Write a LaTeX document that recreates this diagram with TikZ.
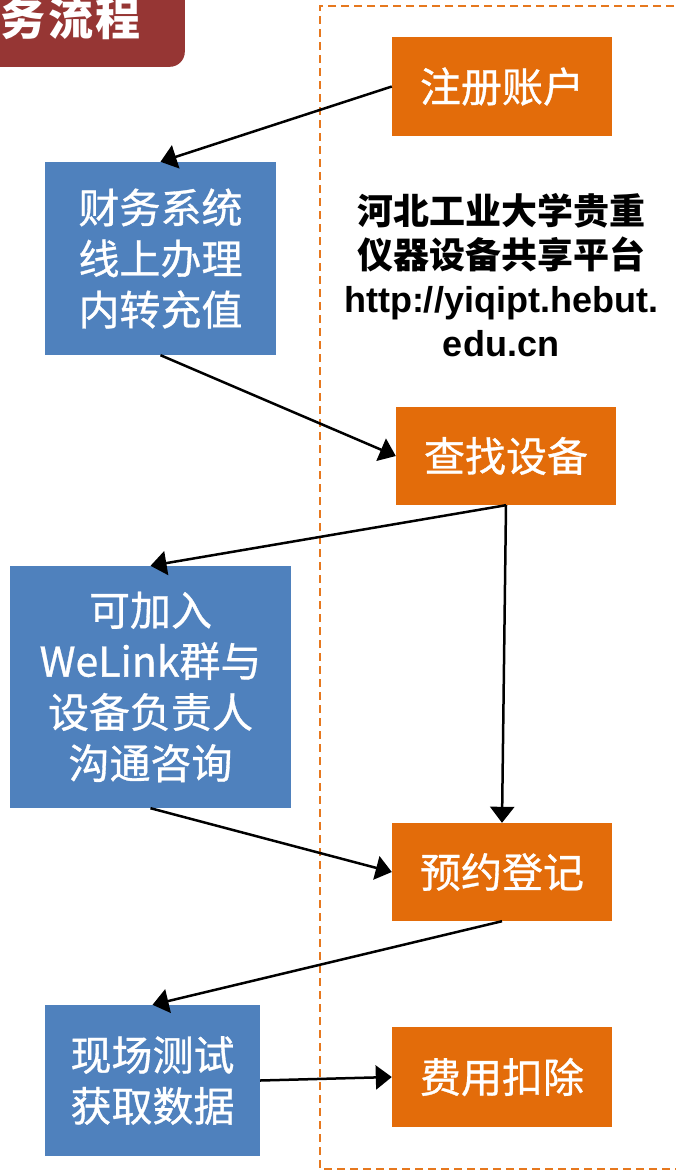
\documentclass[tikz,border=0pt]{standalone}
\usepackage{fontspec}
\newfontfamily\cjk{Noto Sans CJK SC}
\newfontfamily\cjkm[FakeBold=0.8]{Noto Sans CJK SC}
\newfontfamily\arialf{Liberation Sans}
\usetikzlibrary{arrows.meta}
\definecolor{boxorange}{RGB}{227,108,10}
\definecolor{boxblue}{RGB}{79,129,189}
\definecolor{titlered}{RGB}{150,54,52}
\definecolor{dashorange}{RGB}{230,120,30}
\begin{document}
\begin{tikzpicture}[x=1pt,y=-1pt,
  obox/.style={rectangle, fill=boxorange, text=white, minimum width=220pt, inner sep=0pt, font=\cjkm\fontsize{41}{50}\selectfont},
  bbox/.style={rectangle, fill=boxblue, text=white, inner sep=0pt, align=center, font=\cjkm\fontsize{41}{51}\selectfont},
  conn/.style={draw=black, line width=2.5pt, -{Triangle[length=16pt,width=24pt]}},
  frame/.style={draw=dashorange, line width=2pt, dash pattern=on 8pt off 5pt},
]
\useasboundingbox (0,0) rectangle (676,1171);
\clip (0,0) rectangle (676,1171);
\fill[white] (0,0) rectangle (676,1171);

% title tab
\node[fill=titlered, rounded corners=15pt, minimum width=240pt, minimum height=100pt, anchor=south east, inner sep=0pt] (titlebox) at (185,67) {};
\node[anchor=east, text=white, inner sep=0pt, font=\cjk\bfseries\fontsize{45}{45}\selectfont\addfontfeatures{LetterSpace=6}] (title) at (141,18) {务流程};

% dashed frame
\coordinate (f1) at (700,6);
\coordinate (f2) at (320,6);
\coordinate (f3) at (320,1169);
\coordinate (f4) at (700,1169);
\draw[frame] (f1) -- (f2) -- (f3) -- (f4);

% orange boxes
\node[obox, minimum height=99pt] (reg) at (502,86.5) {注册账户};
\node[obox, minimum height=98pt] (find) at (506,456) {查找设备};
\node[obox, minimum height=98pt] (book) at (502,872) {预约登记};
\node[obox, minimum height=100pt] (fee) at (502,1077) {费用扣除};

% blue boxes
\node[bbox, minimum width=231pt, minimum height=193pt] (fin) at (160.5,258.5) {财务系统\\线上办理\\内转充值};
\node[bbox, minimum width=281pt, minimum height=242pt] (welink) at (150.5,687) {可加入\\WeLink群与\\设备负责人\\沟通咨询};
\node[bbox, minimum width=215pt, minimum height=151pt] (test) at (152.5,1080.5) {现场测试\\获取数据};

% platform text
\node[align=center, inner sep=0pt, font=\cjk\bfseries\fontsize{36}{44}\selectfont] (plat) at (501,275)
  {河北工业大学贵重\\仪器设备共享平台\\{\arialf\bfseries http://yiqipt.hebut.}\\{\arialf\bfseries edu.cn}};

% connectors
\draw[conn] (reg.west) -- (fin.north);
\draw[conn] (fin.south) -- (find.west);
\draw[conn] (find.south) -- (welink.north);
\draw[conn] (find.south) -- (book.north);
\draw[conn] (welink.south) -- (book.west);
\draw[conn] (book.south) -- (test.north);
\draw[conn] (test.east) -- (fee.west);
\end{tikzpicture}
\end{document}
